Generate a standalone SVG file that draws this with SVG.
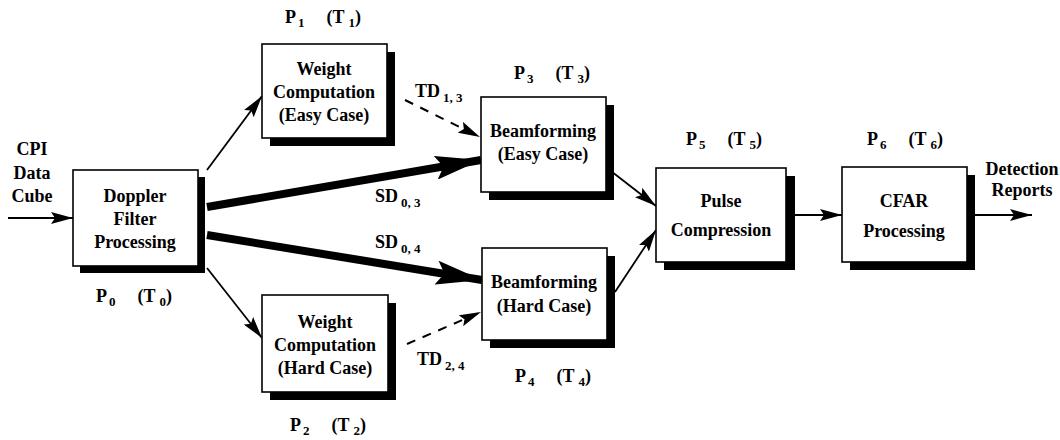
<svg xmlns="http://www.w3.org/2000/svg" width="1060" height="440" viewBox="0 0 1060 440">
<style>
.t{font-size:18px;text-anchor:middle}
.l{font-size:18px}
.s{font-size:13px}
.box{fill:#fff;stroke:#000;stroke-width:1.6}
.sh{fill:#000}
.c{fill:none;stroke:#000}
.thin{stroke-width:1.8}
.thick{stroke-width:8}
.dash{stroke-width:2;stroke-dasharray:9 8}
</style>
<defs>
<marker id="ah" markerUnits="userSpaceOnUse" markerWidth="24" markerHeight="12" refX="22" refY="6" orient="auto" viewBox="0 0 24 12">
<path d="M0,0 L22,6 L0,12 L4,6 Z" fill="#000"/>
</marker>
<marker id="ahb" markerUnits="userSpaceOnUse" markerWidth="48" markerHeight="24" refX="46" refY="12" orient="auto" viewBox="0 0 48 24">
<path d="M0,0 L46,12 L0,24 L8,12 Z" fill="#000"/>
</marker>
</defs>
<g font-family="'Liberation Serif', 'DejaVu Serif', serif" font-weight="bold" fill="#000">
<g id="connectors">
<line class="c thin" x1="8" y1="218" x2="73" y2="218" marker-end="url(#ah)"/>
<line class="c thin" x1="207" y1="170" x2="262" y2="96" marker-end="url(#ah)"/>
<line class="c thin" x1="207" y1="268" x2="262" y2="338" marker-end="url(#ah)"/>
<line class="c thick" x1="207" y1="207" x2="481" y2="160" marker-end="url(#ahb)"/>
<line class="c thick" x1="207" y1="235" x2="482" y2="280" marker-end="url(#ahb)"/>
<line class="c dash" x1="405" y1="100" x2="480" y2="137" marker-end="url(#ah)"/>
<line class="c dash" x1="407" y1="344" x2="481" y2="312" marker-end="url(#ah)"/>
<line class="c thin" x1="607" y1="168" x2="656" y2="206" marker-end="url(#ah)"/>
<line class="c thin" x1="615" y1="292" x2="656" y2="230" marker-end="url(#ah)"/>
<line class="c thin" x1="795" y1="215" x2="842" y2="215" marker-end="url(#ah)"/>
<line class="c thin" x1="975" y1="215" x2="1032" y2="215" marker-end="url(#ah)"/>
<text class="l" x="375" y="202">SD<tspan class="s" dx="3" dy="5">0, 3</tspan></text>
<text class="l" x="375" y="248">SD<tspan class="s" dx="3" dy="5">0, 4</tspan></text>
<text class="l" x="415" y="97">TD<tspan class="s" dx="3" dy="5">1, 3</tspan></text>
<text class="l" x="417" y="365">TD<tspan class="s" dx="3" dy="5">2, 4</tspan></text>
</g>

<g id="input">
<text class="t" x="32" y="155">CPI</text>
<text class="t" x="32" y="179">Data</text>
<text class="t" x="32" y="202">Cube</text>
</g>

<g id="output">
<text class="t" x="1022" y="175">Detection</text>
<text class="t" x="1022" y="196">Reports</text>
</g>

<g id="doppler">
<rect class="sh" x="80" y="177" width="125" height="96"/>
<rect class="box" x="73" y="170" width="125" height="96"/>
<text class="t" x="135" y="202">Doppler</text>
<text class="t" x="135" y="225">Filter</text>
<text class="t" x="135" y="248">Processing</text>
<text class="l" x="96" y="302">P<tspan class="s" dx="2" dy="4">0</tspan><tspan dx="22" dy="-4">(T</tspan><tspan class="s" dx="4" dy="4">0</tspan><tspan dy="-4">)</tspan></text>
</g>

<g id="weight-easy">
<rect class="sh" x="270" y="52" width="125" height="94"/>
<rect class="box" x="262" y="44" width="125" height="94"/>
<text class="t" x="324" y="75">Weight</text>
<text class="t" x="324" y="98">Computation</text>
<text class="t" x="324" y="121">(Easy Case)</text>
<text class="l" x="285" y="23">P<tspan class="s" dx="2" dy="4">1</tspan><tspan dx="22" dy="-4">(T</tspan><tspan class="s" dx="4" dy="4">1</tspan><tspan dy="-4">)</tspan></text>
</g>

<g id="weight-hard">
<rect class="sh" x="270" y="303" width="126" height="97"/>
<rect class="box" x="262" y="295" width="126" height="97"/>
<text class="t" x="325" y="328">Weight</text>
<text class="t" x="325" y="351">Computation</text>
<text class="t" x="325" y="374">(Hard Case)</text>
<text class="l" x="290" y="431">P<tspan class="s" dx="2" dy="4">2</tspan><tspan dx="22" dy="-4">(T</tspan><tspan class="s" dx="4" dy="4">2</tspan><tspan dy="-4">)</tspan></text>
</g>

<g id="beam-easy">
<rect class="sh" x="489" y="105" width="125" height="95"/>
<rect class="box" x="481" y="97" width="125" height="95"/>
<text class="t" x="543" y="137">Beamforming</text>
<text class="t" x="543" y="160">(Easy Case)</text>
<text class="l" x="514" y="79">P<tspan class="s" dx="2" dy="4">3</tspan><tspan dx="22" dy="-4">(T</tspan><tspan class="s" dx="4" dy="4">3</tspan><tspan dy="-4">)</tspan></text>
</g>

<g id="beam-hard">
<rect class="sh" x="490" y="256" width="125" height="92"/>
<rect class="box" x="482" y="248" width="125" height="92"/>
<text class="t" x="544" y="288">Beamforming</text>
<text class="t" x="544" y="312">(Hard Case)</text>
<text class="l" x="515" y="382">P<tspan class="s" dx="2" dy="4">4</tspan><tspan dx="22" dy="-4">(T</tspan><tspan class="s" dx="4" dy="4">4</tspan><tspan dy="-4">)</tspan></text>
</g>

<g id="pulse">
<rect class="sh" x="664" y="176" width="131" height="94"/>
<rect class="box" x="656" y="168" width="130" height="94"/>
<text class="t" x="721" y="207">Pulse</text>
<text class="t" x="721" y="236">Compression</text>
<text class="l" x="686" y="145">P<tspan class="s" dx="2" dy="4">5</tspan><tspan dx="22" dy="-4">(T</tspan><tspan class="s" dx="4" dy="4">5</tspan><tspan dy="-4">)</tspan></text>
</g>

<g id="cfar">
<rect class="sh" x="850" y="175" width="125" height="95"/>
<rect class="box" x="842" y="167" width="125" height="95"/>
<text class="t" x="904" y="207">CFAR</text>
<text class="t" x="904" y="237">Processing</text>
<text class="l" x="867" y="145">P<tspan class="s" dx="2" dy="4">6</tspan><tspan dx="22" dy="-4">(T</tspan><tspan class="s" dx="4" dy="4">6</tspan><tspan dy="-4">)</tspan></text>
</g>
</g>
</svg>
